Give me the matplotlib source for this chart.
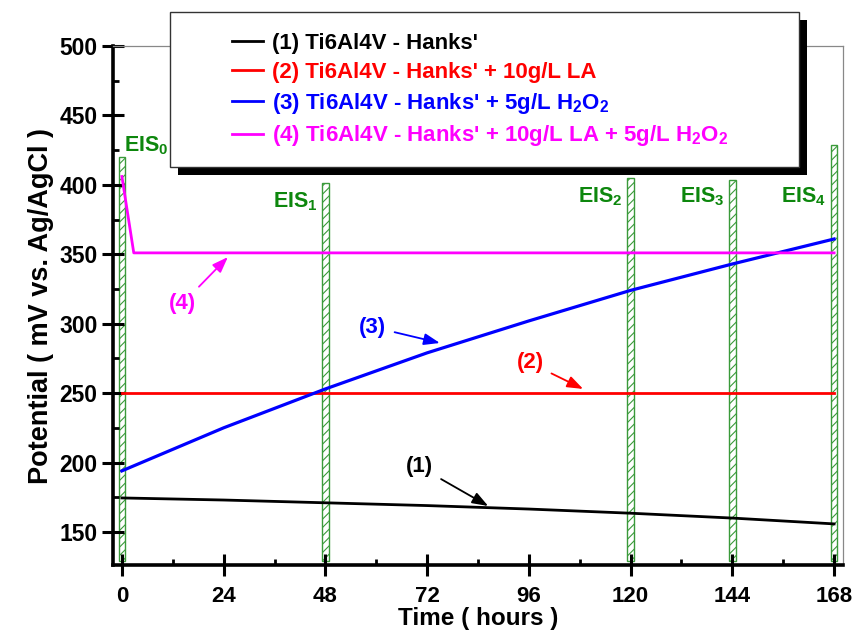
import matplotlib
matplotlib.use("Agg")
import matplotlib.pyplot as plt
from matplotlib.patches import Rectangle
from matplotlib.lines import Line2D

plt.rcParams['font.family'] = ['Liberation Sans', 'DejaVu Sans']
plt.rcParams['font.weight'] = 'bold'
plt.rcParams['mathtext.fontset'] = 'custom'
plt.rcParams['mathtext.rm'] = 'Liberation Sans:bold'
plt.rcParams['mathtext.it'] = 'Liberation Sans:bold'
plt.rcParams['mathtext.bf'] = 'Liberation Sans:bold'
plt.rcParams['hatch.linewidth'] = 0.8

# ---------------- data ----------------
time_h = [0, 24, 48, 72, 96, 120, 144, 168]
s1_hanks = [174.5, 173, 171, 169, 166.5, 163.5, 160, 155.8]
s2_la = [250, 250, 250, 250, 250, 250, 250, 250]
s3_h2o2 = [194, 225, 253, 279, 302, 324, 343, 361]
time_s4 = [0, 2.8, 168]
s4_la_h2o2 = [406, 351, 351]

eis_time = [0, 48, 120, 144, 168]
eis_top = [420, 401.5, 405, 403.5, 429]
eis_labels = ['EIS$_0$', 'EIS$_1$', 'EIS$_2$', 'EIS$_3$', 'EIS$_4$']

legend_labels = ["(1) Ti6Al4V - Hanks'",
                 "(2) Ti6Al4V - Hanks' + 10g/L LA",
                 "(3) Ti6Al4V - Hanks' + 5g/L H$_2$O$_2$",
                 "(4) Ti6Al4V - Hanks' + 10g/L LA + 5g/L H$_2$O$_2$"]
colors = ['black', '#ff0000', '#0000ff', '#ff00ff']

x_ticks = [0, 24, 48, 72, 96, 120, 144, 168]
y_ticks = [150, 200, 250, 300, 350, 400, 450, 500]

# ---------------- figure ----------------
W, H = 859, 634
fig = plt.figure(figsize=(W / 100, H / 100), dpi=100)
ax = fig.add_axes([113 / W, 1 - 565 / H, (843 - 113) / W, (565 - 46) / H])
ax.set_xlim(-2.1, 170.1)
ax.set_ylim(126.2, 500)

green_edge = '#3a9a3a'
bar_bottom = 129
ax.bar(eis_time, [t - bar_bottom for t in eis_top], bottom=bar_bottom,
       width=1.6, facecolor='white', edgecolor=green_edge, hatch='////',
       linewidth=1.0, zorder=1)

series = [(time_h, s1_hanks), (time_h, s2_la), (time_h, s3_h2o2),
          (time_s4, s4_la_h2o2)]
lw = [2.0, 2.0, 2.3, 2.0]
for (tx, ty), c, w in zip(series, colors, lw):
    ax.plot(tx, ty, color=c, lw=w, zorder=3)

# EIS labels
gtxt = '#0d870d'
label_pos = [(0.6, 424, 'left'), (46.2, 384, 'right'), (118.2, 387, 'right'),
             (142.2, 387, 'right'), (166.2, 387, 'right')]
for lab, (xp, yp, ha) in zip(eis_labels, label_pos):
    ax.text(xp, yp, lab, color=gtxt, fontsize=15.5, fontweight='bold',
            ha=ha, va='baseline', zorder=4)

# curve annotations
ann = [('(4)', (14.2, 314.2), (25.0, 348.0), colors[3]),
       ('(3)', (59.2, 297.6), (75.0, 286.1), colors[2]),
       ('(2)', (96.3, 271.7), (108.8, 253.0), colors[1]),
       ('(1)', (70.3, 196.8), (86.4, 168.7), colors[0])]
for txt, xyt, xy, c in ann:
    ax.annotate(txt, xy=xy, xytext=xyt, color=c, fontsize=16,
                fontweight='bold', ha='center', va='center',
                arrowprops=dict(arrowstyle='-|>,head_length=0.6,head_width=0.22',
                                color=c, lw=1.3, shrinkA=4, shrinkB=0),
                zorder=4)

# axes styling
ax.set_xticks(x_ticks)
ax.set_yticks(y_ticks)
ax.set_xticks([12, 36, 60, 84, 108, 132, 156], minor=True)
ax.set_yticks([175, 225, 275, 325, 375, 425, 475], minor=True)
ax.tick_params(axis='both', which='major', direction='inout', length=16,
               width=2.2, labelsize=16.5)
ax.tick_params(axis='x', which='major', pad=7, labelsize=16)
ax.tick_params(axis='y', which='major', pad=3)
ax.tick_params(axis='both', which='minor', direction='in', length=4.5,
               width=2.0)
for lbl in ax.get_xticklabels() + ax.get_yticklabels():
    lbl.set_fontweight('bold')
for s in ['left', 'bottom']:
    ax.spines[s].set_linewidth(2.6)
for s in ['top', 'right']:
    ax.spines[s].set_linewidth(0.9)
    ax.spines[s].set_color('#888888')

ax.set_xlabel('Time ( hours )', fontsize=17.5, fontweight='bold', labelpad=0)
ax.set_ylabel('Potential ( mV vs. Ag/AgCl )', fontsize=19.5,
              fontweight='bold', labelpad=4)

# legend box with black shadow
bx0, by0, bx1, by1 = 170, 12, 799, 167
sh = 8
shadow = Rectangle(((bx0 + sh) / W, 1 - (by1 + sh) / H), (bx1 - bx0) / W,
                   (by1 - by0) / H, transform=fig.transFigure,
                   facecolor='black', edgecolor='black', lw=0, zorder=9)
box = Rectangle((bx0 / W, 1 - by1 / H), (bx1 - bx0) / W, (by1 - by0) / H,
                transform=fig.transFigure, facecolor='white',
                edgecolor='#333333', lw=1.0, zorder=10)
fig.add_artist(shadow)
fig.add_artist(box)

handles = [Line2D([], [], color=c, lw=2) for c in colors]
leg = fig.legend(handles, legend_labels, loc='upper left',
                 bbox_to_anchor=(232 / W, 1 - 33 / H), frameon=False,
                 prop={'weight': 'bold', 'size': 16},
                 handlelength=1.4, handletextpad=0.4, labelspacing=0.35,
                 borderpad=0, borderaxespad=0, labelcolor='linecolor')
leg.set_zorder(11)

fig.savefig('out.png', dpi=100)
